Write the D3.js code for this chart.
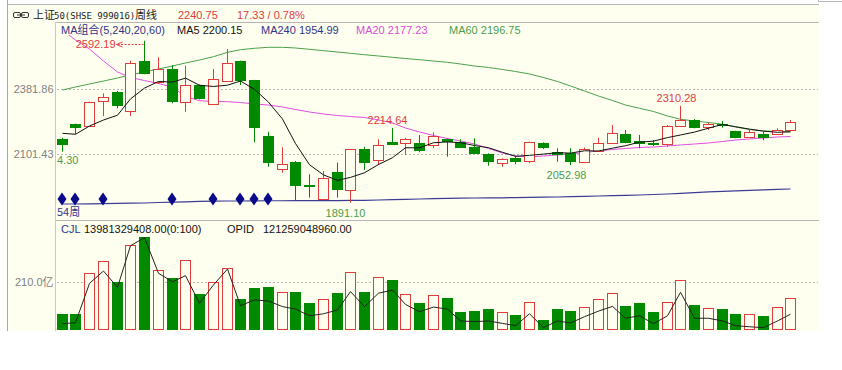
<!DOCTYPE html>
<html>
<head>
<meta charset="utf-8">
<title>上证50 周线</title>
<script src="https://d3js.org/d3.v7.min.js"></script>
<style>
  body { margin: 0; background: #fff; }
  svg { display: block; }
  text { font-family: "Liberation Sans", "Noto Sans CJK SC", sans-serif; font-size: 11px; }
  .cjk { font-family: "Noto Sans CJK SC", sans-serif; }
  .mono { font-family: "DejaVu Sans Mono", monospace; font-size: 9px; }
</style>
</head>
<body>
<svg width="842" height="370"></svg>
<script>
// weekly candles
const open  = [2167.8,2231.5,2222.8,2331.2,2368.9,2287.8,2505.8,2414.8,2469.9,2325.5,2400.5,2318.2,2417.8,2505.8,2422.2,2180.8,2035.1,2065.5,1965.8,1907.7,2022.1,1945.4,2121.8,2075.5,2154.8,2150.4,2147.8,2140.5,2166.5,2154.8,2133.1,2100.2,2062.5,2082.8,2071.1,2147.8,2111.4,2107.1,2068.1,2115.8,2150.4,2188.1,2157.8,2150.4,2143.5,2224.1,2247.5,2218.5,2232.8,2199.8,2175.1,2188.1,2186.8,2205.5];
const high  = [2172.0,2233.0,2328.0,2364.5,2374.5,2505.8,2592.19,2520.6,2487.2,2484.2,2403.0,2469.9,2556.5,2506.0,2423.0,2198.1,2130.5,2071.1,2013.5,2027.8,2063.7,2123.0,2133.1,2165.2,2214.64,2172.1,2183.8,2195.5,2168.0,2165.2,2169.5,2104.5,2082.8,2094.1,2154.8,2152.2,2126.2,2126.2,2128.8,2172.1,2227.2,2205.5,2183.8,2162.2,2227.2,2310.28,2253.2,2237.1,2244.5,2202.4,2205.5,2198.1,2212.9,2249.1];
const low   = [2111.4,2188.1,2219.8,2266.2,2299.5,2266.2,2446.9,2404.8,2321.2,2284.8,2337.7,2316.0,2415.7,2400.5,2152.2,2046.4,2020.4,1897.8,1912.1,1907.7,1912.1,1891.10,2032.1,2053.8,2140.5,2097.1,2108.8,2126.2,2089.8,2127.5,2101.5,2050.8,2046.4,2056.8,2061.2,2123.1,2068.1,2052.98,2065.5,2111.4,2147.8,2147.8,2126.2,2136.2,2133.1,2221.5,2212.9,2205.5,2215.5,2169.5,2172.1,2160.8,2183.8,2202.4];
const close = [2143.5,2217.2,2325.5,2347.2,2313.8,2497.2,2451.2,2469.9,2332.5,2400.5,2342.9,2425.2,2497.2,2422.2,2219.8,2066.8,2058.1,1967.1,1962.8,1998.7,1949.8,2121.8,2068.1,2140.5,2146.1,2166.5,2118.8,2179.5,2157.8,2130.5,2104.5,2071.1,2079.8,2071.1,2152.2,2130.5,2101.5,2071.1,2121.8,2147.8,2191.2,2154.8,2147.8,2144.8,2224.1,2247.5,2218.5,2231.5,2227.2,2173.8,2195.5,2175.1,2205.5,2240.75];

// moving average lines
const ma5   = [2191.2,2186.8,2222.8,2248.8,2269.4,2340.2,2387.0,2415.9,2412.9,2430.3,2399.4,2394.2,2399.7,2417.6,2381.5,2326.2,2252.8,2146.8,2054.9,2010.7,1987.3,2000.0,2020.2,2055.8,2085.3,2128.6,2128.0,2150.3,2153.7,2150.6,2138.2,2128.7,2108.7,2091.4,2095.7,2100.9,2107.0,2105.3,2115.4,2114.5,2126.7,2137.3,2152.7,2157.3,2172.5,2183.8,2196.5,2213.3,2229.8,2219.7,2209.3,2200.6,2195.4,2198.1];
const ma20  = [2638.9,2595.5,2556.5,2504.5,2456.9,2433.0,2420.0,2407.0,2391.8,2350.7,2332.5,2329.0,2328.1,2324.7,2318.2,2313.8,2305.2,2294.3,2283.5,2274.8,2268.3,2264.0,2259.7,2248.8,2235.8,2214.2,2196.8,2181.6,2168.6,2157.8,2144.8,2125.3,2105.8,2092.8,2088.5,2092.8,2097.1,2101.5,2108.0,2114.5,2121.0,2125.3,2129.6,2131.8,2136.1,2140.5,2144.8,2149.2,2155.6,2162.1,2166.5,2170.8,2175.2,2177.23];
const ma60  = [2378.8,2391.8,2404.8,2417.8,2430.8,2443.9,2456.9,2469.9,2482.9,2495.9,2508.9,2523.2,2542.2,2553.5,2559.6,2563.9,2563.9,2560.9,2555.2,2549.2,2543.5,2537.9,2531.8,2526.2,2520.6,2515.3,2510.2,2504.5,2498.9,2491.5,2482.9,2476.4,2467.7,2459.0,2448.2,2433.0,2415.7,2396.2,2374.5,2352.8,2333.3,2313.8,2299.5,2285.7,2266.2,2251.8,2244.5,2238.0,2230.2,2218.5,2207.6,2201.1,2199.0,2196.75];
const ma240 = [1884.8,1884.8,1885.6,1886.5,1887.4,1888.2,1889.1,1891.3,1892.6,1894.3,1896.1,1896.9,1897.8,1897.8,1898.2,1898.7,1898.7,1899.1,1899.1,1899.1,1899.5,1900.0,1900.8,1902.1,1903.4,1904.7,1906.4,1907.7,1909.0,1909.9,1910.8,1911.2,1911.6,1912.5,1913.4,1914.2,1915.1,1916.4,1917.7,1919.4,1920.7,1922.5,1923.8,1925.9,1928.1,1931.1,1934.2,1937.2,1939.8,1942.0,1944.1,1946.3,1948.0,1949.8];

// volume (亿) and its line
const volume = [68,68,249,302,210,375,411,262,228,307,155,209,274,134,183,188,164,167,118,134,159,253,164,232,220,155,115,150,139,77,82,89,76,63,119,40,89,82,98,134,159,103,115,77,119,220,107,92,89,66,66,58,98,139];
const volLine = [24,28,204,259,186,372,408,249,211,238,115,197,268,104,130,125,100,89,59,68,85,167,100,160,174,110,77,98,89,36,33,36,25,15,68,6,36,27,55,80,101,48,59,24,59,164,48,48,36,15,10,6,36,66];

// signal diamonds (candle index) and their level
const signalIdx = [0,1,3,8,11,13,14,15];
const signalLevel = 1906.4;

const priceTicks = [2101.43, 2381.86];
const volTicks = [210];

const RED = "#e03c3c", GREEN = "#008a00", BG = "#FFFFF0";

const svg = d3.select("svg");
const n = close.length;

// panel
svg.append("rect").attr("x", 8).attr("y", 4).attr("width", 811).attr("height", 327).attr("fill", BG);
svg.append("line").attr("x1", 7.5).attr("x2", 7.5).attr("y1", 0).attr("y2", 331).attr("stroke", "#a8a8a8");
svg.append("line").attr("x1", 8).attr("x2", 819).attr("y1", 4.5).attr("y2", 4.5).attr("stroke", "#b8b8b8");
svg.append("rect").attr("x", 818.5).attr("y", -1).attr("width", 30).attr("height", 2.5).attr("fill", "none").attr("stroke", "#b8b8b8");
svg.append("line").attr("x1", 55).attr("x2", 819).attr("y1", 22.5).attr("y2", 22.5).attr("stroke", "#b8b8b8");
svg.append("line").attr("x1", 55.5).attr("x2", 55.5).attr("y1", 22).attr("y2", 331).attr("stroke", "#c8c8c8");
svg.append("line").attr("x1", 56).attr("x2", 819).attr("y1", 220.5).attr("y2", 220.5).attr("stroke", "#b8b8b8");

// scales
const x = d3.scaleBand().domain(d3.range(n)).range([55.125, 797.625]).paddingInner(0.2).paddingOuter(0.1);
const y = d3.scaleLinear().domain([2101.43, 2381.86]).range([154, 89.3]);
const yv = d3.scaleLinear().domain([0, 210]).range([329, 282]);
const bx = i => Math.round(x(i));
const cx = i => Math.round(x(i)) + 5.5;

// axes + grid
function styleAxis(g) {
  g.attr("font-family", null).attr("font-size", null);
  g.select(".domain").remove();
  g.selectAll("text").attr("fill", "#808080");
}
svg.append("g").attr("transform", "translate(55.5,0)")
  .call(d3.axisLeft(y).tickValues(priceTicks).tickSize(0).tickPadding(2).tickFormat(d3.format(".2f")))
  .call(styleAxis);
svg.append("g").attr("transform", "translate(55.5,0)")
  .call(d3.axisLeft(yv).tickValues(volTicks).tickSize(0).tickPadding(2).tickFormat(d => d.toFixed(1) + "亿"))
  .call(styleAxis);
[[y, priceTicks], [yv, volTicks]].forEach(([s, t]) => {
  svg.append("g").selectAll("line").data(t).join("line")
    .attr("x1", 57).attr("x2", 818)
    .attr("y1", d => Math.round(s(d)) + 0.5).attr("y2", d => Math.round(s(d)) + 0.5)
    .attr("stroke", "#b8b8b8").attr("stroke-dasharray", "2,2");
});

// clip for price area
svg.append("clipPath").attr("id", "clipP").append("rect")
  .attr("x", 56).attr("y", 35).attr("width", 763).attr("height", 184);

const gP = svg.append("g").attr("clip-path", "url(#clipP)");
const line = arr => d3.line().x((d, i) => cx(i)).y(d => y(d))(arr);

// MA240 + signal markers
gP.append("path").attr("d", line(ma240)).attr("fill", "none").attr("stroke", "#3c3c96").attr("stroke-width", 1.2);
gP.append("g").selectAll("path").data(signalIdx).join("path")
  .attr("d", i => {
    const px = cx(i) - 0.5, py = y(signalLevel);
    return `M${px},${py - 6.5}L${px + 4.5},${py}L${px},${py + 6.5}L${px - 4.5},${py}Z`;
  })
  .attr("fill", "#0a0a8a");

// MA lines
gP.append("path").attr("d", line(ma60)).attr("fill", "none").attr("stroke", "#4aa04a");
gP.append("path").attr("d", line(ma20)).attr("fill", "none").attr("stroke", "#e04ee0");

// candles
const candles = d3.range(n).map(i => ({ i, o: open[i], h: high[i], l: low[i], c: close[i], up: close[i] >= open[i] }));
const gC = gP.append("g").selectAll("g").data(candles).join("g");
gC.append("line")
  .attr("x1", d => cx(d.i)).attr("x2", d => cx(d.i))
  .attr("y1", d => y(d.h)).attr("y2", d => y(d.l))
  .attr("stroke", d => d.up ? RED : GREEN);
gC.append("rect")
  .attr("x", d => bx(d.i) + 0.5)
  .attr("y", d => Math.round(y(Math.max(d.o, d.c))) + 0.5)
  .attr("width", 10)
  .attr("height", d => Math.max(0, Math.round(y(Math.min(d.o, d.c))) - Math.round(y(Math.max(d.o, d.c)))))
  .attr("fill", d => d.up ? BG : GREEN)
  .attr("stroke", d => d.up ? RED : GREEN);

gP.append("path").attr("d", line(ma5)).attr("fill", "none").attr("stroke", "#111");

// high / low labels
const labels = [
  { i: 24, v: high[24], text: "2214.64", color: RED, dx: -5, dy: -3.5 },
  { i: 45, v: high[45], text: "2310.28", color: RED, dx: -4, dy: -4 },
  { i: 21, v: low[21], text: "1891.10", color: "#4c9c4c", dx: -5, dy: 14.5 },
  { i: 37, v: low[37], text: "2052.98", color: "#4c9c4c", dx: -4, dy: 14 }
];
svg.append("g").selectAll("text").data(labels).join("text")
  .attr("x", d => cx(d.i) + d.dx).attr("y", d => y(d.v) + d.dy)
  .attr("text-anchor", "middle").attr("fill", d => d.color).text(d => d.text);

// max price with arrow
const mi = 6, my = y(high[mi]) + 3.5;
svg.append("text").attr("x", cx(mi) - 29).attr("y", my + 4).attr("text-anchor", "end").attr("fill", RED).text("2592.19");
svg.append("line").attr("x1", cx(mi) - 27).attr("x2", cx(mi) - 1).attr("y1", Math.round(my) + 0.5).attr("y2", Math.round(my) + 0.5)
  .attr("stroke", RED).attr("stroke-dasharray", "2,1.5");
svg.append("path").attr("d", `M${cx(mi) - 22},${Math.round(my) - 2}L${cx(mi) - 28},${Math.round(my) + 0.5}L${cx(mi) - 22},${Math.round(my) + 3}`)
  .attr("fill", "none").attr("stroke", RED);

svg.append("text").attr("x", 57).attr("y", 164).attr("fill", "#4c9c4c").text("4.30");
svg.append("text").attr("class", "cjk").attr("x", 57).attr("y", 216).attr("fill", "#33338a").text("54周");

// volume bars + line
svg.append("g").selectAll("rect").data(candles).join("rect")
  .attr("x", d => bx(d.i) + 0.5)
  .attr("y", d => Math.round(yv(volume[d.i])) + 0.5)
  .attr("width", 10)
  .attr("height", d => Math.round(yv(0)) - Math.round(yv(volume[d.i])))
  .attr("fill", d => d.up ? BG : GREEN)
  .attr("stroke", d => d.up ? RED : GREEN);
svg.append("path").attr("d", d3.line().x((d, i) => cx(i)).y(d => yv(d))(volLine))
  .attr("fill", "none").attr("stroke", "#222");

// header
const hd = svg.append("g");
hd.append("rect").attr("x", 13.5).attr("y", 12.5).attr("width", 7).attr("height", 5).attr("rx", 1.5).attr("fill", "none").attr("stroke", "#333");
hd.append("rect").attr("x", 21.5).attr("y", 12.5).attr("width", 7).attr("height", 5).attr("rx", 1.5).attr("fill", "none").attr("stroke", "#333");
hd.append("line").attr("x1", 17).attr("x2", 25).attr("y1", 15).attr("y2", 15).attr("stroke", "#333");
hd.append("text").attr("class", "cjk").attr("x", 33).attr("y", 19).attr("fill", "#222").text("上证");
hd.append("text").attr("class", "mono").attr("x", 54).attr("y", 19).attr("fill", "#222").text("50(SHSE 999016)");
hd.append("text").attr("class", "cjk").attr("x", 135).attr("y", 19).attr("fill", "#222").text("周线");
hd.append("text").attr("x", 178).attr("y", 19).attr("fill", RED).text("2240.75");
hd.append("text").attr("x", 237).attr("y", 19).attr("fill", RED).text("17.33 / 0.78%");

// legend
const legend = [
  { x: 61, text: "MA组合(5,240,20,60)", color: "#33338a" },
  { x: 177, text: "MA5 2200.15", color: "#111" },
  { x: 261, text: "MA240 1954.99", color: "#33338a" },
  { x: 356, text: "MA20 2177.23", color: "#d94ad9" },
  { x: 449, text: "MA60 2196.75", color: "#4a9e4a" }
];
svg.append("g").selectAll("text").data(legend).join("text")
  .attr("x", d => d.x).attr("y", 34).attr("fill", d => d.color).text(d => d.text);

// volume header
const vh = [
  { x: 61, text: "CJL", color: "#33338a" },
  { x: 84, text: "13981329408.00(0:100)", color: "#111" },
  { x: 227, text: "OPID", color: "#111" },
  { x: 263, text: "121259048960.00", color: "#111" }
];
svg.append("g").selectAll("text").data(vh).join("text")
  .attr("x", d => d.x).attr("y", 233).attr("fill", d => d.color).text(d => d.text);
</script>
</body>
</html>
